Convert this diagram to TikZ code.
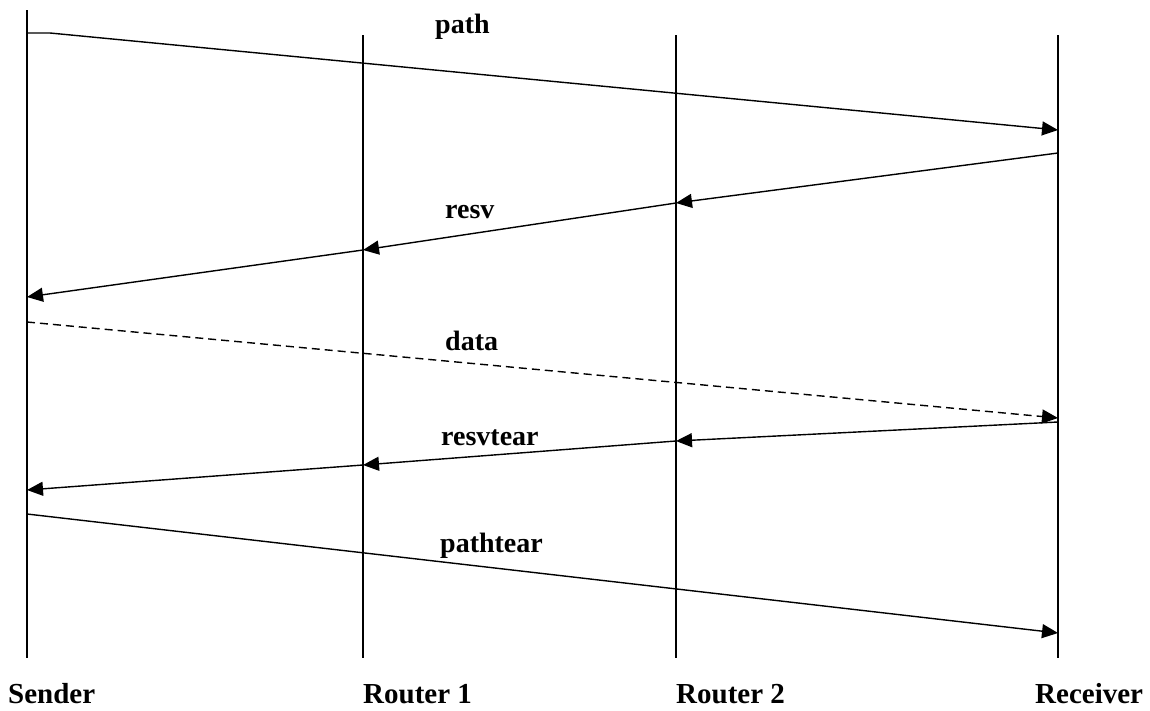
\documentclass[tikz,border=0pt]{standalone}
\usepackage{fontspec}
\setmainfont{Liberation Serif}
\usetikzlibrary{arrows.meta}
\begin{document}
\begin{tikzpicture}[x=1pt,y=-1pt,
  lifeline/.style={line width=1.6pt},
  msg/.style={line width=1.4pt,-{Triangle[length=16pt,width=14pt]}},
  lbl/.style={font=\bfseries\fontsize{28}{32}\selectfont,inner sep=0pt,anchor=base west},
  host/.style={lbl,font=\bfseries\fontsize{29}{33}\selectfont}]
\useasboundingbox (0,0) rectangle (1150,710);

% lifelines
\coordinate (s0) at (27,10);   \coordinate (s1) at (27,658);
\coordinate (r10) at (363,35); \coordinate (r11) at (363,658);
\coordinate (r20) at (676,35); \coordinate (r21) at (676,658);
\coordinate (d0) at (1058,35); \coordinate (d1) at (1058,658);
\draw[lifeline] (s0) -- (s1);
\draw[lifeline] (r10) -- (r11);
\draw[lifeline] (r20) -- (r21);
\draw[lifeline] (d0) -- (d1);

% path message
\coordinate (pa0) at (27,33);
\coordinate (pa1) at (50,33);
\coordinate (pa2) at (1058,130);
\draw[msg] (pa0) -- (pa1) -- (pa2);

% resv, hop by hop
\coordinate (rv0) at (1058,153);
\coordinate (rv1) at (676,203);
\coordinate (rv2) at (363,250);
\coordinate (rv3) at (27,297);
\draw[msg] (rv0) -- (rv1);
\draw[msg] (rv1) -- (rv2);
\draw[msg] (rv2) -- (rv3);

% data
\coordinate (da0) at (27,322);
\coordinate (da1) at (1058,418);
\draw[msg,dash pattern=on 8pt off 5pt] (da0) -- (da1);

% resvtear, hop by hop
\coordinate (rt0) at (1058,422);
\coordinate (rt1) at (676,441);
\coordinate (rt2) at (363,465);
\coordinate (rt3) at (27,490);
\draw[msg] (rt0) -- (rt1);
\draw[msg] (rt1) -- (rt2);
\draw[msg] (rt2) -- (rt3);

% pathtear
\coordinate (pt0) at (27,514);
\coordinate (pt1) at (1058,633);
\draw[msg] (pt0) -- (pt1);

% message labels
\node[lbl] (lpath) at (435,33) {path};
\node[lbl] (lresv) at (445,218) {resv};
\node[lbl] (ldata) at (445,350) {data};
\node[lbl] (lrt) at (441,445) {resvtear};
\node[lbl] (lpt) at (440,552) {pathtear};

% host names
\node[host] (nsend) at (8,703) {Sender};
\node[host] (nr1) at (363,703) {Router 1};
\node[host] (nr2) at (676,703) {Router 2};
\node[host] (nrec) at (1035,703) {Receiver};
\end{tikzpicture}
\end{document}
